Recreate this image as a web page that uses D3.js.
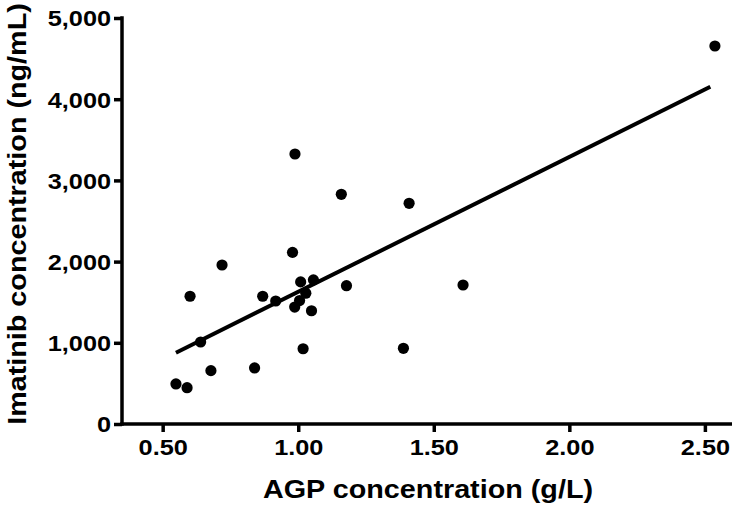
<!DOCTYPE html>
<html>
<head>
<meta charset="utf-8">
<script src="https://cdn.jsdelivr.net/npm/d3@7"></script>
<style>
  html, body { margin: 0; padding: 0; background: #fff; }
  svg text { font-family: "Liberation Sans", Arial, Helvetica, sans-serif; font-weight: bold; fill: #000; }
</style>
</head>
<body>
<svg id="chart" width="734" height="507"></svg>
<script>
// AGP concentration (g/L)
const agp = [0.988, 1.159, 0.979, 0.719, 0.601, 0.869, 0.917, 1.009, 1.056, 1.178,
             1.028, 1.005, 0.987, 1.049, 0.640, 1.018, 0.839, 0.678, 0.549, 0.590,
             1.409, 1.608, 1.388, 2.537];
// Imatinib concentration (ng/mL)
const imatinib = [3325, 2829, 2114, 1958, 1573, 1573, 1515, 1750, 1775, 1703,
                  1610, 1520, 1440, 1395, 1010, 927, 690, 657, 493, 447,
                  2718, 1712, 932, 4655];
// Regression line endpoints
const fitX = [0.549, 2.52];
const fitY = [878, 4154];
const xTicks = [0.5, 1.0, 1.5, 2.0, 2.5];
const yTicks = [0, 1000, 2000, 3000, 4000, 5000];
const xTitle = "AGP concentration (g/L)";
const yTitle = "Imatinib concentration (ng/mL)";

const svg = d3.select("#chart");
const x = d3.scaleLinear().domain([0.35, 2.6]).range([122, 732]);
const y = d3.scaleLinear().domain([0, 5000]).range([424, 18]);

const axisW = 3.5;
const tickFont = "22px";
const sx = 1.15; // horizontal stretch of the lettering

// X axis
const gx = svg.append("g").attr("transform", `translate(0,${y(0)})`)
  .call(d3.axisBottom(x).tickValues(xTicks).tickFormat(d3.format(".2f")).tickSizeOuter(0).tickSize(8).tickPadding(7));
gx.select(".domain").attr("stroke-width", axisW).attr("d", `M${x.range()[0] - 1.75},0H${x.range()[1]}`);
gx.selectAll(".tick line").attr("stroke-width", axisW);
gx.selectAll(".tick text").style("font-size", tickFont).attr("dy", "0.72em")
  .attr("transform", `scale(${sx},1)`);

// Y axis
const gy = svg.append("g").attr("transform", `translate(${x.range()[0]},0)`)
  .call(d3.axisLeft(y).tickValues(yTicks).tickFormat(d3.format(",")).tickSizeOuter(0).tickSize(8).tickPadding(3));
gy.select(".domain").attr("stroke-width", axisW).attr("d", `M0,${y.range()[0] + 1.75}V${y.range()[1] - 1.75}`);
gy.selectAll(".tick line").attr("stroke-width", axisW);
gy.selectAll(".tick text").style("font-size", tickFont).attr("dy", "0.36em")
  .attr("x", -11 / sx).attr("transform", `scale(${sx},1)`);

// Fit line
svg.append("path")
  .datum(fitX.map((d, i) => [d, fitY[i]]))
  .attr("d", d3.line().x(d => x(d[0])).y(d => y(d[1])))
  .attr("stroke", "#000").attr("stroke-width", 4).attr("fill", "none");

// Points
svg.append("g").selectAll("circle")
  .data(agp.map((d, i) => [d, imatinib[i]]))
  .join("circle")
  .attr("cx", d => x(d[0])).attr("cy", d => y(d[1])).attr("r", 5.6).attr("fill", "#000");

// Titles
svg.append("text").attr("transform", `translate(428,498) scale(${sx},1)`).attr("text-anchor", "middle")
  .style("font-size", "25px").text(xTitle);
svg.append("text").attr("transform", `translate(26,214) rotate(-90) scale(${sx},1)`)
  .attr("text-anchor", "middle").style("font-size", "25px").text(yTitle);
</script>
</body>
</html>
